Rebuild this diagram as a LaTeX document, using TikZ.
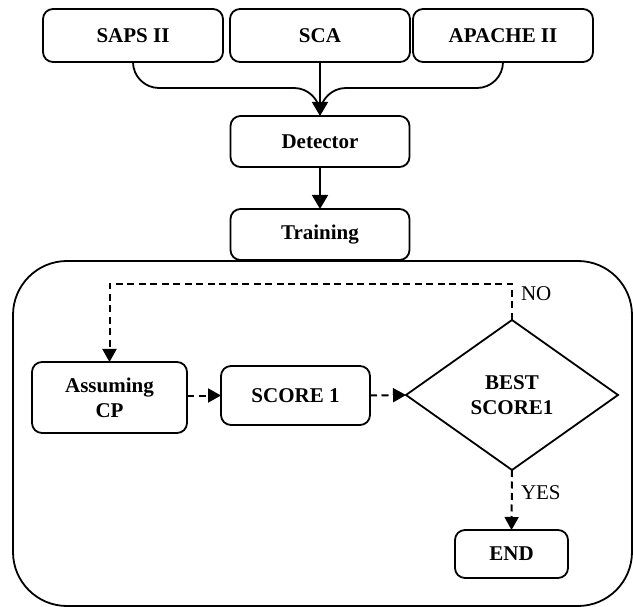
\documentclass[tikz,border=0pt]{standalone}
\usepackage{fontspec}
\setmainfont{Liberation Serif}
\usetikzlibrary{arrows.meta,shapes.geometric}
\begin{document}
\begin{tikzpicture}[x=1pt,y=-1pt,
  every node/.style={inner sep=0pt,outer sep=0pt},
  box/.style={draw,line width=1.8pt,rounded corners=10pt,align=center,
    font=\bfseries\fontsize{21}{25}\selectfont},
  lbl/.style={font=\fontsize{21}{25}\selectfont,anchor=west},
  conn/.style={line width=1.8pt},
  tip/.style={-{Triangle[length=14pt,width=16pt]}},
  dtip/.style={-{Triangle[length=13pt,width=14pt]}},
  dashline/.style={line width=2pt,dash pattern=on 7pt off 4.5pt}]
\useasboundingbox (0,0) rectangle (633,607);
% outer frame
\node[draw,line width=1.8pt,rounded corners=54pt,minimum width=619pt,minimum height=345pt] (frame) at (322.5,433.5) {};
% top boxes
\node[box,minimum width=180pt,minimum height=53pt] (saps) at (133,35.5) {SAPS II};
\node[box,minimum width=180pt,minimum height=53pt] (sca) at (320,35.5) {SCA};
\node[box,minimum width=180pt,minimum height=53pt] (apache) at (503,35.5) {APACHE II};
\node[box,minimum width=179pt,minimum height=51pt] (det) at (320,141.5) {Detector};
\node[box,minimum width=179pt,minimum height=51pt] (train) at (320,234.5) {Training};
% inner boxes
\node[box,minimum width=155pt,minimum height=71pt] (acp) at (109.5,397.5) {Assuming\\CP};
\node[box,minimum width=149pt,minimum height=59pt] (score) at (295.5,395.5) {SCORE 1};
\node[draw,line width=1.8pt,diamond,minimum width=212pt,minimum height=150pt,align=center,
  font=\bfseries\fontsize{21}{25}\selectfont] (dia) at (512,395) {BEST\\SCORE1};
\node[box,minimum width=113pt,minimum height=48pt] (end) at (511.5,554) {END};
% top connectors
\coordinate (mid) at (320,88);
\draw[conn,rounded corners=26pt] (saps.south) |- (mid) -- (det.north);
\draw[conn,rounded corners=26pt] (apache.south) |- (mid) -- (det.north);
\draw[conn,tip] (sca.south) -- (det.north);
\draw[conn,tip] (det.south) -- (train.north);
% dashed connectors
\coordinate (looptop) at (512,284);
\draw[dashline,dtip] (dia.north) -- (looptop) -| (acp.north);
\draw[dashline,dtip] (acp.east |- score.west) -- (score.west);
\draw[dashline,dtip] (score.east) -- (dia.west);
\draw[dashline,dtip] (dia.south) -- (end.north);
% labels
\node[lbl] (no) at (521,294) {NO};
\node[lbl] (yes) at (521,493) {YES};
\end{tikzpicture}
\end{document}
